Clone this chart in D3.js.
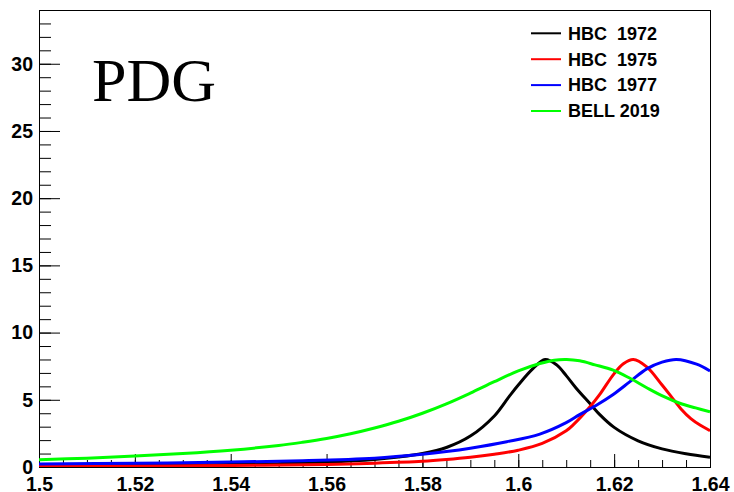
<!DOCTYPE html>
<html>
<head>
<meta charset="utf-8">
<script src="https://cdn.jsdelivr.net/npm/d3@7"></script>
<style>
  body { margin: 0; background: #fff; }
  svg { display: block; }
  .tick text { font-family: "Liberation Sans", Arial, sans-serif; font-weight: bold; }
</style>
</head>
<body>
<svg id="chart" width="734" height="492"></svg>
<script>
// series: [mass, value]
var hbc1972 = [[1.50,0.07],[1.52,0.11],[1.54,0.18],[1.55,0.25],[1.56,0.36],[1.57,0.56],[1.575,0.74],
  [1.58,1.0],[1.585,1.45],[1.59,2.3],[1.595,3.8],[1.598,5.2],[1.60,6.1],[1.603,7.3],[1.6056,8.0],
  [1.608,7.6],[1.61,6.8],[1.612,5.9],[1.615,4.7],[1.617,3.9],[1.62,2.95],[1.625,1.95],[1.63,1.35],
  [1.635,0.98],[1.64,0.72]];
var hbc1975 = [[1.50,0.05],[1.52,0.07],[1.54,0.11],[1.56,0.19],[1.57,0.28],[1.58,0.42],[1.585,0.55],
  [1.59,0.72],[1.595,0.95],[1.60,1.25],[1.605,1.75],[1.61,2.7],[1.6115,3.15],[1.615,4.5],[1.617,5.4],
  [1.62,6.95],[1.622,7.7],[1.624,8.0],[1.6268,7.45],[1.63,6.1],[1.632,5.2],[1.634,4.3],[1.636,3.6],
  [1.638,3.1],[1.64,2.7]];
var hbc1977 = [[1.50,0.22],[1.52,0.28],[1.54,0.37],[1.555,0.47],[1.57,0.66],[1.58,0.95],[1.585,1.15],
  [1.59,1.4],[1.5976,1.88],[1.6045,2.45],[1.61,3.3],[1.6128,3.9],[1.6163,4.6],[1.6198,5.4],
  [1.6233,6.35],[1.6268,7.3],[1.63,7.8],[1.633,8.0],[1.6372,7.65],[1.64,7.15]];
var bell2019 = [[1.50,0.54],[1.51,0.66],[1.52,0.81],[1.53,1.0],[1.54,1.25],[1.55,1.6],[1.555,1.84],
  [1.56,2.12],[1.565,2.47],[1.57,2.9],[1.575,3.4],[1.58,4.0],[1.585,4.7],[1.59,5.5],[1.595,6.35],
  [1.60,7.15],[1.6045,7.7],[1.6075,7.95],[1.6101,8.0],[1.6128,7.9],[1.616,7.6],[1.6198,7.2],
  [1.6233,6.6],[1.6268,5.9],[1.6303,5.25],[1.6337,4.74],[1.637,4.4],[1.64,4.11]];

var seriesNames = ["HBC  1972", "HBC  1975", "HBC  1977", "BELL 2019"];
var seriesColors = ["#000000", "#ff0000", "#0000ff", "#00ff00"];
var seriesData = [hbc1972, hbc1975, hbc1977, bell2019];

var xMajorTicks = [1.5, 1.52, 1.54, 1.56, 1.58, 1.6, 1.62, 1.64];
var yMajorTicks = [0, 5, 10, 15, 20, 25, 30];

var plotL = 39, plotR = 710, plotT = 10, plotB = 467;

var svg = d3.select("#chart");

var x = d3.scaleLinear().domain([1.5, 1.64]).range([plotL, plotR]);
var y = d3.scaleLinear().domain([0, 34]).range([plotB, plotT]);

svg.append("defs").append("clipPath").attr("id", "plotClip")
  .append("rect").attr("x", plotL).attr("y", plotT)
  .attr("width", plotR - plotL).attr("height", plotB - plotT);

// frame
svg.append("rect")
  .attr("x", plotL + 0.5).attr("y", plotT + 0.5)
  .attr("width", plotR - plotL).attr("height", plotB - plotT)
  .attr("fill", "none").attr("stroke", "#000").attr("stroke-width", 1);

// minor ticks
var yMinor = d3.range(0, 35, 1);
svg.append("g")
  .attr("transform", "translate(" + plotL + ",0)")
  .call(d3.axisLeft(y).tickValues(yMinor).tickSize(-12).tickFormat(""))
  .call(function(g){ g.select(".domain").remove(); });

var xMinor = d3.range(0, 29).map(function(i){ return 1.5 + i * 0.005; });
svg.append("g")
  .attr("transform", "translate(0," + plotB + ")")
  .call(d3.axisBottom(x).tickValues(xMinor).tickSize(-7).tickFormat(""))
  .call(function(g){ g.select(".domain").remove(); });

// major ticks + labels
svg.append("g")
  .attr("transform", "translate(" + plotL + ",0)")
  .call(d3.axisLeft(y).tickValues(yMajorTicks).tickSize(-21).tickPadding(6).tickFormat(d3.format("d")))
  .call(function(g){
    g.select(".domain").remove();
    g.selectAll("text").style("font-size", "19.5px").attr("fill", "#000");
  });

svg.append("g")
  .attr("transform", "translate(0," + plotB + ")")
  .call(d3.axisBottom(x).tickValues(xMajorTicks).tickSize(-13).tickPadding(10).tickFormat(function(d){ return String(+d.toFixed(2)); }))
  .call(function(g){
    g.select(".domain").remove();
    g.selectAll("text").style("font-size", "19.5px").attr("fill", "#000");
  });

// curves
var line = d3.line()
  .x(function(d){ return x(d[0]); })
  .y(function(d){ return y(d[1]); })
  .curve(d3.curveCatmullRom.alpha(0.5));

svg.append("g").attr("clip-path", "url(#plotClip)")
  .selectAll("path.curve")
  .data(seriesData)
  .enter()
  .append("path")
  .attr("class", "curve")
  .attr("d", line)
  .attr("fill", "none")
  .attr("stroke", function(d, i){ return seriesColors[i]; })
  .attr("stroke-width", 3);

// PDG label
svg.append("text")
  .attr("x", 92).attr("y", 101)
  .style("font-family", "\"Liberation Serif\", \"Times New Roman\", serif")
  .style("font-size", "62px")
  .attr("fill", "#000")
  .text("PDG");

// legend
var legend = svg.append("g");
var rows = legend.selectAll("g")
  .data(seriesNames)
  .enter()
  .append("g")
  .attr("transform", function(d, i){ return "translate(0," + (33.3 + i * 25.9) + ")"; });

rows.append("line")
  .attr("x1", 531).attr("x2", 561)
  .attr("y1", 0).attr("y2", 0)
  .attr("stroke", function(d, i){ return seriesColors[i]; })
  .attr("stroke-width", 2);

rows.append("text")
  .attr("x", 568).attr("y", 6.3)
  .style("font-family", "\"Liberation Sans\", Arial, sans-serif")
  .style("font-weight", "bold")
  .style("font-size", "18px")
  .style("white-space", "pre")
  .attr("fill", "#000")
  .text(function(d){ return d; });
</script>
</body>
</html>
